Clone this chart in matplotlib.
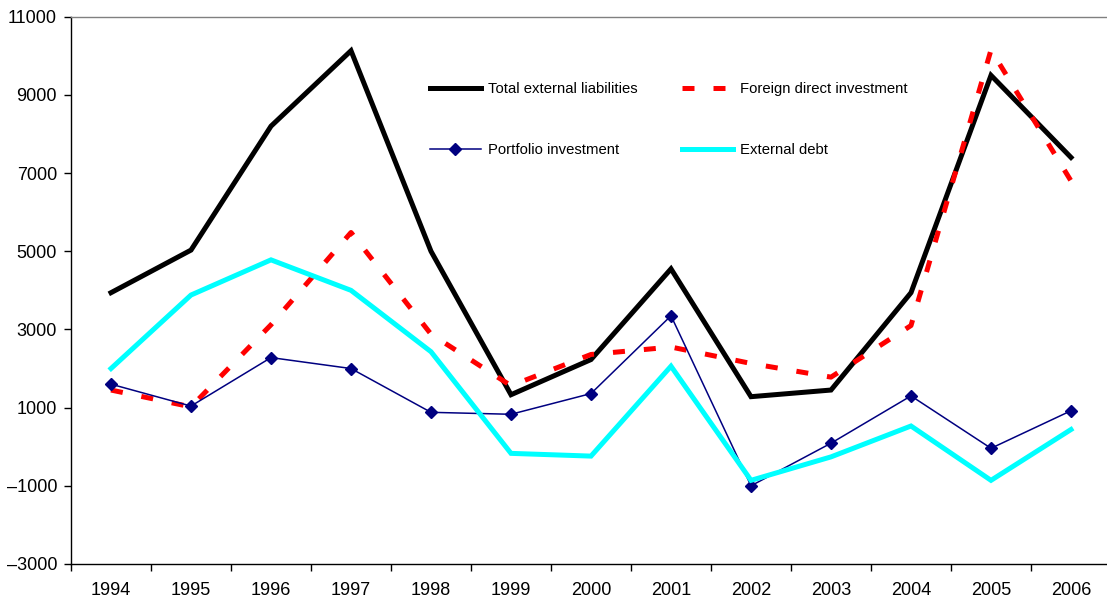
import matplotlib
matplotlib.use("Agg")
import matplotlib.pyplot as plt
from matplotlib.ticker import FixedLocator, NullFormatter, FixedFormatter

plt.rcParams['font.family'] = ['Liberation Sans', 'DejaVu Sans']

years = ["1994", "1995", "1996", "1997", "1998", "1999", "2000",
         "2001", "2002", "2003", "2004", "2005", "2006"]

total_liabilities = [3940, 5030, 8200, 10130, 5000, 1330, 2230,
                     4550, 1280, 1450, 3940, 9500, 7400]
fdi = [1450, 1020, 3120, 5480, 2880, 1560, 2360,
       2550, 2130, 1780, 3100, 10150, 6800]
portfolio = [1600, 1040, 2280, 2000, 880, 830, 1360,
             3350, -1000, 90, 1300, -40, 920]
external_debt = [2000, 3880, 4780, 4000, 2430, -170, -240,
                 2060, -860, -260, 530, -860, 440]

y_ticks = [-3000, -1000, 1000, 3000, 5000, 7000, 9000, 11000]

W, H = 1107, 599
fig = plt.figure(figsize=(W / 100, H / 100), dpi=100)
ax = fig.add_axes([71 / W, 35 / H, 1040 / W, 547.3 / H])

x = list(range(len(years)))

ax.plot(x, total_liabilities, color="black", lw=3.6,
        solid_joinstyle="miter", label="Total external liabilities")
ax.plot(x, fdi, color="#FF0000", lw=3.6, dashes=(2.4, 3.8),
        dash_capstyle="butt", label="Foreign direct investment")
ax.plot(x, portfolio, color="#000080", lw=1.1, marker="D", ms=6.5,
        label="Portfolio investment")
ax.plot(x, external_debt, color="#00FFFF", lw=3.6,
        solid_joinstyle="miter", label="External debt")

ax.set_xlim(-0.5, len(years) - 0.5)
ax.set_ylim(-3000, 11000)

ax.set_yticks(y_ticks)
ax.set_yticklabels([f"{v}".replace("-", "\u2013") for v in y_ticks])

# category boundaries carry the tick marks, centres carry the labels
ax.xaxis.set_major_locator(FixedLocator([i - 0.5 for i in range(len(years) + 1)]))
ax.xaxis.set_major_formatter(NullFormatter())
ax.xaxis.set_minor_locator(FixedLocator(x))
ax.xaxis.set_minor_formatter(FixedFormatter(years))
ax.tick_params(axis="x", which="major", direction="out", length=5, width=1, color="black")
ax.tick_params(axis="x", which="minor", length=0, pad=13, labelsize=13)
ax.tick_params(axis="y", direction="out", length=5, width=1, pad=5, labelsize=13)

for side in ("left", "bottom"):
    ax.spines[side].set_color("black")
    ax.spines[side].set_linewidth(1.0)
ax.spines["top"].set_color("#808080")
ax.spines["top"].set_linewidth(1.0)
ax.spines["right"].set_visible(False)

handles, labels = ax.get_legend_handles_labels()
order = [0, 2, 1, 3]
leg = ax.legend([handles[i] for i in order], [labels[i] for i in order],
                ncol=2, frameon=False, fontsize=10.7,
                loc="upper left", bbox_to_anchor=(430 / W, 1 - 82 / H),
                bbox_transform=fig.transFigure, borderpad=0, borderaxespad=0,
                handlelength=3.4, handletextpad=0.5, columnspacing=3.0,
                labelspacing=3.15)

fig.savefig("out.png", dpi=100)
